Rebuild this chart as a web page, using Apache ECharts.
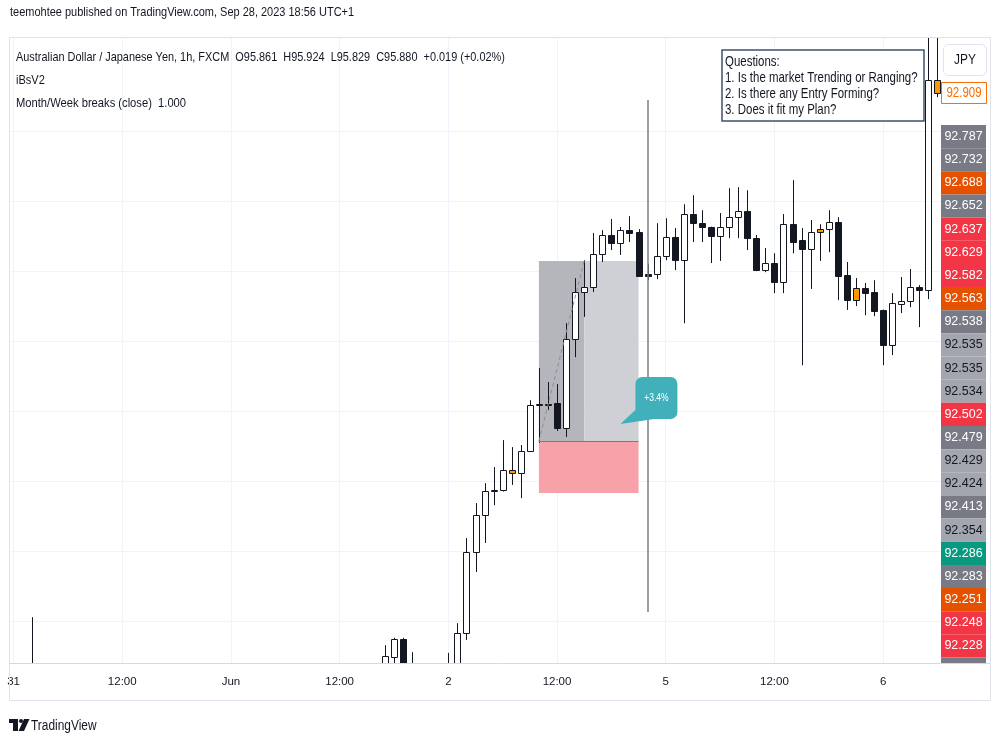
<!DOCTYPE html>
<html>
<head>
<meta charset="utf-8">
<script src="https://cdn.jsdelivr.net/npm/echarts@6.0.0/dist/echarts.min.js"></script>
<style>
  html, body { margin: 0; padding: 0; background: #ffffff; }
  #chart { width: 1000px; height: 750px; }
</style>
</head>
<body>
<div id="chart"></div>
<script>
// AUD/JPY 1h, May 31 00:00 -> Jun 6 06:00 (UTC+1), weekend hours skipped
const hours = [];
[['05-31', 0, 23], ['06-01', 0, 23], ['06-02', 0, 22], ['06-04', 23, 23], ['06-05', 0, 23], ['06-06', 0, 6]]
  .forEach(([d, h0, h1]) => {
    for (let h = h0; h <= h1; h++) hours.push(d + ' ' + String(h).padStart(2, '0') + ':00');
  });

// time axis labels, by bar index
const timeTicks = { 0: '31', 12: '12:00', 24: 'Jun', 36: '12:00', 48: '2', 60: '12:00', 72: '5', 84: '12:00', 96: '6' };

// [open, close, low, high]; '-' = bar lies below the visible price window
const _ = '-';
const candles = [
  _, _, [91.22, 91.25, 91.20, 91.411], _, _, _, _, _, _, _,
  _, _, _, _, _, _, _, _, _, _,
  _, _, _, _, _, _, _, _, _, _,
  _, _, _, _, _, _, _, _, _, _,
  _, [91.26, 91.300, 91.25, 91.331],
  [91.297, 91.349, 91.27, 91.352],
  [91.349, 91.26, 91.25, 91.352],
  [91.27, 91.26, 91.24, 91.311], _, _, _,
  [91.25, 91.27, 91.23, 91.309],
  [91.27, 91.366, 91.26, 91.394],
  [91.366, 91.597, 91.346, 91.637],   // 50
  [91.597, 91.703, 91.54, 91.737],
  [91.703, 91.771, 91.623, 91.794],
  [91.771, 91.774, 91.731, 91.84],
  [91.774, 91.831, 91.77, 91.917],
  [91.831, 91.822, 91.789, 91.897],
  [91.822, 91.886, 91.751, 91.903],
  [91.886, 92.017, 91.884, 92.031],
  [92.017, 92.02, 91.909, 92.123],
  [92.02, 92.018, 92.003, 92.083],
  [92.022, 91.951, 91.943, 92.077],   // 60
  [91.951, 92.206, 91.926, 92.251],
  [92.206, 92.34, 92.154, 92.38],
  [92.34, 92.354, 92.269, 92.431],
  [92.354, 92.449, 92.34, 92.509],
  [92.449, 92.503, 92.426, 92.517],
  [92.503, 92.48, 92.46, 92.549],
  [92.48, 92.517, 92.446, 92.526],
  [92.517, 92.509, 92.483, 92.557],
  [92.511, 92.386, 92.383, 92.52],
  [92.391, 92.386, 92.374, 92.42],    // 70
  [92.391, 92.443, 92.377, 92.537],
  [92.443, 92.497, 92.431, 92.551],
  [92.497, 92.431, 92.403, 92.523],
  [92.431, 92.563, 92.251, 92.591],
  [92.563, 92.537, 92.483, 92.617],
  [92.537, 92.526, 92.483, 92.574],
  [92.526, 92.5, 92.423, 92.527],
  [92.5, 92.526, 92.429, 92.566],
  [92.526, 92.554, 92.494, 92.637],
  [92.554, 92.571, 92.494, 92.64],    // 80
  [92.571, 92.494, 92.46, 92.631],
  [92.494, 92.403, 92.4, 92.503],
  [92.403, 92.423, 92.397, 92.466],
  [92.423, 92.369, 92.337, 92.451],
  [92.369, 92.534, 92.337, 92.563],
  [92.534, 92.483, 92.451, 92.66],
  [92.489, 92.463, 92.131, 92.523],
  [92.463, 92.511, 92.349, 92.546],
  [92.511, 92.52, 92.429, 92.534],
  [92.52, 92.54, 92.454, 92.574],     // 90
  [92.54, 92.386, 92.317, 92.554],
  [92.389, 92.317, 92.289, 92.426],
  [92.317, 92.351, 92.3, 92.38],
  [92.351, 92.337, 92.274, 92.366],
  [92.34, 92.286, 92.271, 92.374],
  [92.289, 92.189, 92.131, 92.29],
  [92.189, 92.309, 92.16, 92.337],
  [92.306, 92.314, 92.28, 92.383],
  [92.314, 92.354, 92.297, 92.406],
  [92.354, 92.346, 92.24, 92.36],     // 100
  [92.346, 92.946, 92.32, 93.2],
  [92.946, 92.909, 92.897, 93.15]
];
// bars painted orange by the iBsV2 indicator
const orangeBars = [55, 89, 93, 102];

const gridPrices = [91.4, 91.6, 91.8, 92.0, 92.2, 92.4, 92.6, 92.8];
const lastPrice = 92.909;

// long position drawing
const posStart = 58, posHit = 63, posEnd = 69;
const entryPrice = 91.914, targetPrice = 92.429, stopPrice = 91.766;
const vLineBar = 70, vLineTop = 92.889, vLineBottom = 91.426;
const calloutBar = 67, calloutPrice = 91.963, calloutText = '+3.4%';

// stacked price scale labels
const tagValues = ['92.787', '92.732', '92.688', '92.652', '92.637', '92.629', '92.582', '92.563', '92.538', '92.535', '92.535', '92.534',
  '92.502', '92.479', '92.429', '92.424', '92.413', '92.354', '92.286', '92.283', '92.251', '92.248', '92.228'];
const tagKinds = ['gray', 'gray', 'orange', 'gray', 'red', 'red', 'red', 'orange', 'gray', 'light', 'light', 'light',
  'red', 'gray', 'light', 'light', 'gray', 'light', 'teal', 'gray', 'orange', 'red', 'red'];

const palette = {
  gray: ['#787b86', '#ffffff'],
  light: ['#a3a6af', '#131722'],
  red: ['#f23645', '#ffffff'],
  orange: ['#e65100', '#ffffff'],
  teal: ['#089981', '#ffffff']
};
const ink = '#131722';
const uiFont = "'Liberation Sans', Arial, sans-serif";

// custom candles so partially visible bars get clipped at the pane edges
const candleRows = [];
candles.forEach((c, i) => {
  if (c !== _) candleRows.push([i, c[0], c[1], c[2], c[3]]);
});

function renderCandle(params, api) {
  const i = api.value(0);
  const o = api.value(1), c = api.value(2);
  const pO = api.coord([i, o]);
  const pC = api.coord([i, c]);
  const pL = api.coord([i, api.value(3)]);
  const pH = api.coord([i, api.value(4)]);
  const x = Math.round(pO[0]) + 0.5;
  const top = Math.round(Math.min(pO[1], pC[1])) + 0.5;
  const bot = Math.round(Math.max(pO[1], pC[1])) + 0.5;
  let fill = c >= o ? '#ffffff' : ink;
  if (orangeBars.indexOf(i) >= 0) fill = '#ff9800';
  return {
    type: 'group',
    children: [
      { type: 'line', shape: { x1: x, y1: pH[1], x2: x, y2: pL[1] }, style: { stroke: ink, lineWidth: 1 } },
      { type: 'rect', shape: { x: x - 3, y: top, width: 6, height: Math.max(bot - top, 1) }, style: { fill: fill, stroke: ink, lineWidth: 1 } }
    ]
  };
}

let chart = echarts.init(document.getElementById('chart'));

chart.setOption({
  animation: false,
  grid: [
    { left: 9, top: 37, width: 933, height: 626 },
    { left: 941, top: 125, width: 45, height: 532.5 }
  ],
  xAxis: [
    {
      type: 'category',
      gridIndex: 0,
      data: hours,
      boundaryGap: true,
      axisLine: { show: false },
      axisTick: { show: false },
      splitLine: { show: false },
      axisLabel: {
        interval: (i) => i in timeTicks,
        formatter: (v, i) => timeTicks[i] || '',
        color: ink,
        fontSize: 11.5,
        fontFamily: uiFont,
        margin: 13
      }
    },
    { type: 'value', gridIndex: 1, min: 0, max: 1, show: false }
  ],
  yAxis: [
    { type: 'value', gridIndex: 0, min: 91.28, max: 93.069, show: false },
    { type: 'category', gridIndex: 1, data: tagValues.map((v, i) => i), inverse: true, show: false }
  ],
  series: [
    {
      name: 'grid',
      type: 'line',
      data: [],
      silent: true,
      markLine: {
        silent: true,
        symbol: 'none',
        z: 0,
        label: { show: false },
        lineStyle: { color: '#f0f3fa', width: 1, type: 'solid' },
        data: gridPrices.map(v => ({ yAxis: v }))
          .concat(Object.keys(timeTicks).map(k => ({ xAxis: Number(k) })))
      }
    },
    {
      name: 'position',
      type: 'line',
      data: [],
      silent: true,
      markArea: {
        silent: true,
        z: 1,
        label: { show: false },
        data: [
          [{ coord: [posStart, targetPrice], itemStyle: { color: '#b4b6bc', opacity: 1 } }, { coord: [posHit, entryPrice] }],
          [{ coord: [posHit, targetPrice], itemStyle: { color: '#cfd0d5', opacity: 1 } }, { coord: [posEnd, entryPrice] }],
          [{ coord: [posStart, entryPrice], itemStyle: { color: '#f7a1a9', opacity: 1 } }, { coord: [posEnd, stopPrice] }]
        ]
      },
      markLine: {
        silent: true,
        symbol: 'none',
        z: 4,
        label: { show: false },
        data: [
          [{ coord: [posStart, entryPrice], lineStyle: { color: '#787b86', width: 1, type: 'solid' } }, { coord: [posEnd, entryPrice] }],
          [{ coord: [posStart, entryPrice], lineStyle: { color: '#8a8d96', width: 1, type: [4, 3] } }, { coord: [posHit, targetPrice] }],
          [{ coord: [vLineBar, vLineTop], lineStyle: { color: '#7b7e88', width: 1.5, type: 'solid' } }, { coord: [vLineBar, vLineBottom] }]
        ]
      }
    },
    {
      name: 'AUDJPY',
      type: 'custom',
      data: candleRows,
      encode: { x: 0, y: [1, 2, 3, 4] },
      renderItem: renderCandle,
      clip: true,
      silent: true,
      z: 3
    },
    {
      name: 'tags',
      type: 'bar',
      xAxisIndex: 1,
      yAxisIndex: 1,
      silent: true,
      barCategoryGap: '0%',
      data: tagValues.map((v, i) => ({
        value: 1,
        itemStyle: { color: palette[tagKinds[i]][0] },
        label: { color: palette[tagKinds[i]][1] }
      })),
      label: {
        show: true,
        position: 'inside',
        formatter: p => tagValues[p.dataIndex],
        fontSize: 12.5,
        fontFamily: uiFont
      }
    }
  ]
});

// overlay: frame, legend texts, notes, price tag, callout
function txt(x, y, text, size, sx, color, align) {
  return {
    type: 'text', x: x, y: y, scaleX: sx, silent: true, z: 20,
    style: { text: text, fill: color || ink, font: size + 'px "Liberation Sans"', align: align || 'left', verticalAlign: 'middle' }
  };
}

const lastY = chart.convertToPixel({ xAxisIndex: 0, yAxisIndex: 0 }, [102, lastPrice])[1];
const tip = chart.convertToPixel({ xAxisIndex: 0, yAxisIndex: 0 }, [calloutBar, calloutPrice]);

chart.setOption({
  graphic: [
    { type: 'rect', silent: true, z: 20, shape: { x: 9.5, y: 37.5, width: 981, height: 663 }, style: { fill: 'none', stroke: '#e0e3eb', lineWidth: 1 } },
    { type: 'line', silent: true, z: 20, shape: { x1: 9, y1: 663.5, x2: 990, y2: 663.5 }, style: { stroke: '#d6d9e0', lineWidth: 1 } },
    { type: 'rect', silent: true, z: 20, shape: { x: 941, y: 657.5, width: 45, height: 5.5 }, style: { fill: '#787b86' } },

    txt(10, 12, 'teemohtee published on TradingView.com, Sep 28, 2023 18:56 UTC+1', 13, 0.845),
    txt(16, 57, 'Australian Dollar / Japanese Yen, 1h, FXCM  O95.861  H95.924  L95.829  C95.880  +0.019 (+0.02%)', 13, 0.84),
    txt(16, 80, 'iBsV2', 13, 0.85),
    txt(16, 103, 'Month/Week breaks (close)  1.000', 13, 0.86),

    { type: 'rect', silent: true, z: 20, shape: { x: 722, y: 50, width: 202, height: 71 }, style: { fill: '#ffffff', stroke: '#3b536b', lineWidth: 1.5 } },
    txt(725, 62, 'Questions:', 15, 0.764),
    txt(725, 78, '1. Is the market Trending or Ranging?', 15, 0.764),
    txt(725, 94, '2. Is there any Entry Forming?', 15, 0.764),
    txt(725, 110, '3. Does it fit my Plan?', 15, 0.764),

    { type: 'rect', silent: true, z: 20, shape: { x: 943.5, y: 44.5, width: 43, height: 31, r: 5 }, style: { fill: '#ffffff', stroke: '#e0e3eb', lineWidth: 1 } },
    txt(965, 60, 'JPY', 14, 0.85, ink, 'center'),

    { type: 'rect', silent: true, z: 20, shape: { x: 941.5, y: lastY - 10.5, width: 45, height: 21 }, style: { fill: '#ffffff', stroke: '#ff6d00', lineWidth: 1 } },
    txt(964, lastY, String(lastPrice), 14, 0.82, '#ff6d00', 'center'),

    { type: 'polygon', silent: true, z: 20, shape: { points: [[tip[0], tip[1]], [tip[0] + 17, tip[1] - 16], [tip[0] + 34, tip[1] - 5]] }, style: { fill: '#41b0bb' } },
    { type: 'rect', silent: true, z: 20, shape: { x: tip[0] + 15, y: tip[1] - 47, width: 42, height: 42, r: [7, 7, 7, 3] }, style: { fill: '#41b0bb' } },
    txt(tip[0] + 36, tip[1] - 26, calloutText, 10, 0.85, '#ffffff', 'center'),

    { type: 'rect', silent: true, z: 20, shape: { x: 9, y: 719, width: 9, height: 4 }, style: { fill: ink } },
    { type: 'rect', silent: true, z: 20, shape: { x: 13, y: 719, width: 5, height: 12 }, style: { fill: ink } },
    { type: 'circle', silent: true, z: 20, shape: { cx: 21, cy: 721, r: 2 }, style: { fill: ink } },
    { type: 'polygon', silent: true, z: 20, shape: { points: [[24, 719], [29.5, 719], [24, 731], [18.5, 731]] }, style: { fill: ink } },
    txt(31, 726, 'TradingView', 14, 0.85)
  ]
});

window.addEventListener('resize', function () {
  chart.resize();
});
</script>
</body>
</html>
